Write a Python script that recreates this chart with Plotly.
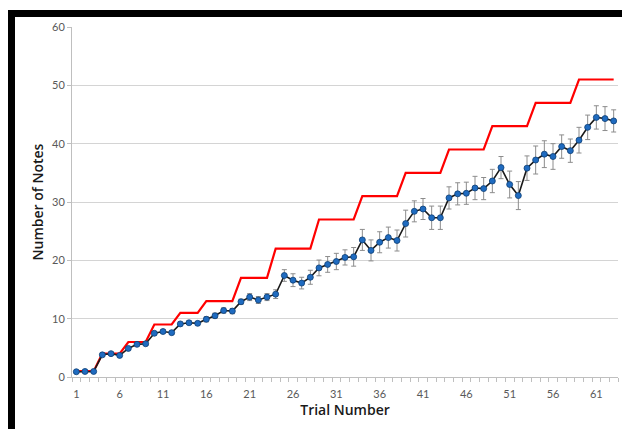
import plotly.graph_objects as go

trials = list(range(1, 64))

target_notes = [1, 1, 1, 4, 4, 4, 6, 6, 6, 9, 9, 9, 11, 11, 11, 13, 13, 13, 13,
                17, 17, 17, 17, 22, 22, 22, 22, 22, 27, 27, 27, 27, 27,
                31, 31, 31, 31, 31, 35, 35, 35, 35, 35, 39, 39, 39, 39, 39,
                43, 43, 43, 43, 43, 47, 47, 47, 47, 47, 51, 51, 51, 51, 51]

mean_notes = [0.9, 0.95, 0.95, 3.8, 4.0, 3.7, 4.9, 5.6, 5.7, 7.5, 7.8, 7.6,
              9.1, 9.3, 9.2, 9.9, 10.5, 11.4, 11.3, 12.9, 13.7, 13.2, 13.7,
              14.2, 17.4, 16.6, 16.1, 17.1, 18.7, 19.3, 19.8, 20.5, 20.6,
              23.5, 21.7, 23.1, 23.9, 23.4, 26.3, 28.4, 28.8, 27.3, 27.3,
              30.7, 31.4, 31.5, 32.4, 32.3, 33.6, 35.9, 33.0, 31.1, 35.8,
              37.2, 38.2, 37.8, 39.5, 38.8, 40.6, 42.8, 44.5, 44.3, 43.9]

error_notes = [0.15, 0.15, 0.15, 0.25, 0.25, 0.25, 0.25, 0.25, 0.25, 0.3, 0.3,
               0.3, 0.3, 0.3, 0.3, 0.45, 0.45, 0.45, 0.45, 0.45, 0.6, 0.6, 0.6,
               0.75, 1.0, 1.1, 1.0, 1.2, 1.35, 1.35, 1.4, 1.3, 1.6, 1.8, 1.8,
               1.8, 1.8, 1.8, 2.3, 1.8, 1.8, 2.0, 2.0, 1.9, 1.9, 1.9, 2.0, 1.9,
               2.0, 1.9, 2.3, 2.4, 2.1, 2.4, 2.3, 2.2, 2.0, 2.0, 2.2, 2.1, 2.0,
               2.05, 1.9]

tick_vals = [1, 6, 11, 16, 21, 26, 31, 36, 41, 46, 51, 56, 61]
tick_text = ["1", "6", "11", "16", "21", "26", "31", "36", "41", "46", "51", "56", "61"]
y_ticks = [0, 10, 20, 30, 40, 50, 60]

fig = go.Figure()

fig.add_trace(go.Scatter(
    x=trials, y=target_notes, mode="lines",
    line=dict(color="#FF0000", width=2.2),
    showlegend=False, hoverinfo="skip"))

fig.add_trace(go.Scatter(
    x=trials, y=mean_notes, mode="lines+markers",
    line=dict(color="#1a1a1a", width=1.6),
    marker=dict(size=6, color="#1F6BC0", line=dict(color="#0D3D73", width=0.8)),
    error_y=dict(type="data", array=error_notes, visible=True,
                 color="#8c8c8c", thickness=1, width=2.5),
    showlegend=False))

L, R, T, B = 72, 4, 27, 52
W, H = 622, 429
pw, ph = W - L - R, H - T - B

def px_x(px):
    return (px - L) / pw

def px_y(py):
    return (H - B - py) / ph

shapes = [
    dict(type="rect", xref="paper", yref="paper",
         x0=px_x(8), x1=px_x(623), y0=px_y(17), y1=px_y(10),
         fillcolor="black", line=dict(width=0), layer="above"),
    dict(type="rect", xref="paper", yref="paper",
         x0=px_x(8), x1=px_x(15), y0=px_y(430), y1=px_y(10),
         fillcolor="black", line=dict(width=0), layer="above"),
]

tick_font = dict(family="Lato, Carlito, Calibri, sans-serif", size=11, color="#595959")
title_font = dict(family="Open Sans, sans-serif", size=14, color="#1a1a1a", weight=600)

fig.update_layout(
    width=W, height=H,
    margin=dict(l=L, r=R, t=T, b=B, autoexpand=False),
    paper_bgcolor="white", plot_bgcolor="white",
    shapes=shapes,
    xaxis=dict(
        range=[0.5, 63.5], tickmode="array", tickvals=tick_vals, ticktext=tick_text,
        ticks="outside", ticklen=7, tickcolor="rgba(0,0,0,0)",
        showgrid=False, zeroline=False, automargin=False,
        showline=True, linecolor="#bfbfbf", linewidth=1,
        tickfont=tick_font,
        minor=dict(tickmode="linear", tick0=0.5, dtick=1, ticks="outside",
                   ticklen=4, tickcolor="#bfbfbf", showgrid=False),
        title=dict(text="Trial Number", font=title_font, standoff=5),
    ),
    yaxis=dict(
        range=[0, 60], tickmode="array", tickvals=y_ticks,
        ticks="outside", ticklen=4, tickcolor="#bfbfbf",
        showgrid=True, gridcolor="#d4d4d4", gridwidth=1, zeroline=False,
        showline=True, linecolor="#bfbfbf", linewidth=1, automargin=False,
        tickfont=tick_font,
        title=dict(text="Number of Notes", font=title_font, standoff=5),
    ),
)

fig.write_html("out.html",
               config={"displayModeBar": False},
               post_script="document.body.style.margin='0';document.body.style.padding='0';")
